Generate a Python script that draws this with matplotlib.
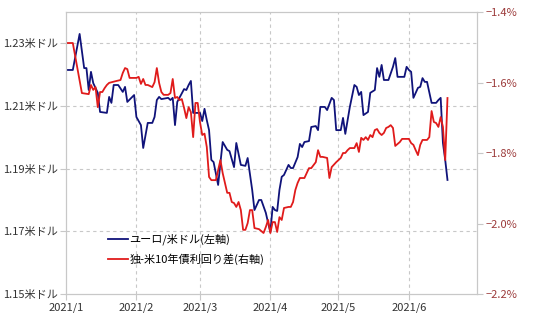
import matplotlib
matplotlib.use("Agg")
import matplotlib.pyplot as plt
import pandas as pd

plt.rcParams['font.family'] = ['Noto Sans CJK JP', 'DejaVu Sans']

# ユーロ/米ドル (左軸) : 2021/1/1 からの日数と値
eur_day = [0, 3, 6, 8, 9, 10, 11, 12, 14, 15, 18, 19, 20, 21, 23, 25, 26, 27, 30, 31,
           33, 34, 36, 38, 39, 40, 41, 42, 45, 46, 47, 48, 49, 52, 53, 54, 55, 56, 59, 60,
           61, 62, 63, 64, 65, 67, 68, 69, 71, 72, 74, 75, 77, 79, 80, 82, 83, 85, 86, 88,
           89, 90, 91, 92, 93, 94, 95, 96, 98, 99, 100, 102, 103, 104, 105, 107, 108, 110, 111, 112,
           114, 115, 117, 118, 119, 121, 122, 123, 125, 127, 128, 129, 130, 131, 133, 134, 136, 137, 138, 139,
           140, 142, 144, 145, 146, 149, 150, 151, 152, 153, 155, 156, 157, 158, 159, 161, 163, 164, 165, 166,
           167, 168]
eur_usd = [1.2215, 1.2215, 1.2330, 1.2221, 1.2221, 1.2151, 1.2209, 1.2173, 1.2142, 1.2081,
           1.2078, 1.2129, 1.2110, 1.2167, 1.2167, 1.2145, 1.2161, 1.2113, 1.2135, 1.2065,
           1.2039, 1.1966, 1.2046, 1.2046, 1.2065, 1.2119, 1.2129, 1.2122, 1.2126, 1.2119,
           1.2126, 1.2039, 1.2113, 1.2154, 1.2151, 1.2167, 1.2180, 1.2078, 1.2078, 1.2052,
           1.2091, 1.2055, 1.2023, 1.1928, 1.1921, 1.1848, 1.1918, 1.1985, 1.1960, 1.1956,
           1.1905, 1.1982, 1.1912, 1.1909, 1.1934, 1.1832, 1.1768, 1.1800, 1.1800, 1.1759,
           1.1727, 1.1698, 1.1778, 1.1768, 1.1765, 1.1832, 1.1874, 1.1880, 1.1912, 1.1902,
           1.1902, 1.1937, 1.1979, 1.1969, 1.1985, 1.1988, 1.2033, 1.2036, 1.2023, 1.2097,
           1.2097, 1.2087, 1.2126, 1.2119, 1.2023, 1.2023, 1.2062, 1.2011, 1.2097, 1.2167,
           1.2161, 1.2135, 1.2145, 1.2071, 1.2081, 1.2142, 1.2151, 1.2221, 1.2193, 1.2231,
           1.2183, 1.2183, 1.2225, 1.2253, 1.2193, 1.2193, 1.2225, 1.2215, 1.2209, 1.2126,
           1.2158, 1.2161, 1.2189, 1.2177, 1.2177, 1.2110, 1.2110, 1.2119, 1.2126, 1.1982,
           1.1928, 1.1864]

# 独-米10年債利回り差 (右軸, %)
spr_day = [0, 3, 7, 10, 11, 12, 13, 14, 15, 16, 17, 18, 19, 22, 24, 25, 26, 27, 28, 31,
           32, 33, 34, 35, 36, 38, 39, 40, 41, 42, 43, 45, 46, 47, 48, 49, 50, 51, 52, 53,
           54, 55, 56, 57, 58, 59, 60, 61, 62, 63, 64, 66, 67, 68, 69, 71, 72, 73, 74, 75,
           76, 77, 78, 79, 80, 81, 82, 83, 85, 87, 88, 89, 90, 91, 92, 93, 94, 95, 96, 98,
           99, 100, 101, 102, 103, 105, 106, 107, 108, 110, 111, 112, 113, 115, 116, 117, 119, 121, 122, 123,
           124, 125, 127, 128, 129, 130, 131, 132, 133, 134, 135, 136, 137, 138, 139, 140, 141, 142, 143, 144,
           145, 147, 148, 151, 152, 153, 154, 155, 156, 157, 159, 160, 161, 162, 163, 164, 165, 166, 167, 168]
spread = [-1.488, -1.488, -1.630, -1.633, -1.607, -1.621, -1.613, -1.670, -1.627, -1.627,
          -1.616, -1.607, -1.601, -1.596, -1.593, -1.573, -1.559, -1.562, -1.587, -1.587,
          -1.584, -1.604, -1.590, -1.607, -1.607, -1.613, -1.599, -1.559, -1.601, -1.627,
          -1.635, -1.635, -1.630, -1.590, -1.644, -1.641, -1.650, -1.647, -1.672, -1.701,
          -1.670, -1.684, -1.755, -1.658, -1.658, -1.712, -1.749, -1.745, -1.783, -1.868,
          -1.877, -1.877, -1.848, -1.820, -1.857, -1.913, -1.913, -1.939, -1.942, -1.953,
          -1.939, -1.962, -2.018, -2.018, -1.999, -1.962, -1.962, -2.013, -2.016, -2.027,
          -2.010, -1.990, -2.027, -1.996, -1.996, -2.024, -1.982, -1.990, -1.956, -1.953,
          -1.953, -1.939, -1.905, -1.885, -1.871, -1.871, -1.857, -1.843, -1.843, -1.826,
          -1.792, -1.811, -1.811, -1.814, -1.871, -1.840, -1.826, -1.814, -1.800, -1.800,
          -1.792, -1.786, -1.786, -1.772, -1.797, -1.757, -1.763, -1.755, -1.763, -1.749,
          -1.755, -1.735, -1.732, -1.743, -1.749, -1.743, -1.729, -1.726, -1.721, -1.729,
          -1.780, -1.769, -1.760, -1.760, -1.772, -1.777, -1.792, -1.806, -1.777, -1.763,
          -1.763, -1.755, -1.681, -1.712, -1.715, -1.726, -1.698, -1.726, -1.820, -1.644]

left_ticks = [1.15, 1.17, 1.19, 1.21, 1.23]
right_ticks = [-2.2, -2.0, -1.8, -1.6, -1.4]
month_labels = ['2021/1', '2021/2', '2021/3', '2021/4', '2021/5', '2021/6']

base = pd.Timestamp('2021-01-01')
eur_dates = base + pd.to_timedelta(eur_day, unit='D')
spr_dates = base + pd.to_timedelta(spr_day, unit='D')
month_pos = pd.date_range('2021-01-01', periods=6, freq='MS')

grid_c = '#c8c8c8'
fig = plt.figure(figsize=(5.4, 3.13), dpi=100)
ax = fig.add_axes([66 / 540, 19 / 313, 411 / 540, 282 / 313])
ax2 = ax.twinx()

l1, = ax.plot(eur_dates, eur_usd, color='#10137a', lw=1.3, label='ユーロ/米ドル(左軸)')
l2, = ax2.plot(spr_dates, spread, color='#e01b1b', lw=1.3, label='独-米10年債利回り差(右軸)')

ax.set_xlim(pd.Timestamp('2021-01-01'), pd.Timestamp('2021-07-01'))
ax.set_ylim(1.15, 1.24)
ax2.set_ylim(-2.2, -1.4)

ax.set_yticks(left_ticks)
ax.set_yticklabels([f'{v:.2f}米ドル' for v in left_ticks], fontsize=8, color='#333333')
ax2.set_yticks(right_ticks)
ax2.set_yticklabels([f'\u2212{abs(v):.1f}%' for v in right_ticks], fontsize=8, color='#9c3b3b')
ax.set_xticks(month_pos)
ax.set_xticklabels(month_labels, fontsize=8, color='#333333')

for a in (ax, ax2):
    for s in a.spines.values():
        s.set_color(grid_c)
    a.tick_params(length=4, color=grid_c, pad=2)

for v in left_ticks[1:]:
    ax.axhline(v, color=grid_c, lw=0.8, ls=(0, (3, 3)), zorder=0)
for m in month_pos[1:]:
    ax.axvline(m, color=grid_c, lw=0.8, ls=(0, (3, 3)), zorder=0)

ax2.legend([l1, l2], [l1.get_label(), l2.get_label()], loc='upper left',
           bbox_to_anchor=(0.091, 0.23), frameon=False, fontsize=8,
           handlelength=1.8, handletextpad=0.15, labelspacing=0.75, borderaxespad=0)

fig.savefig('out.png', dpi=100)
